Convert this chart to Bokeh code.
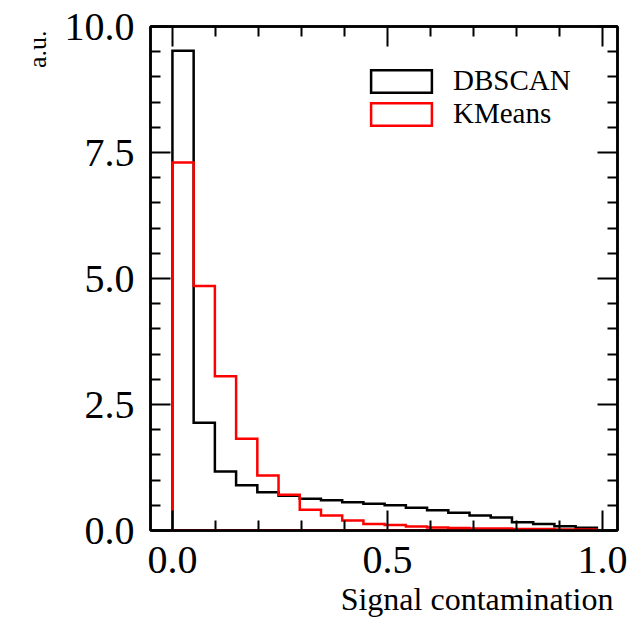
import numpy as np
from bokeh.plotting import figure
from bokeh.models import (Range1d, FixedTicker, PrintfTickFormatter, LinearAxis,
                          Legend, LegendItem, CustomJSTickFormatter, Title)
from bokeh.embed import file_html
from bokeh.resources import INLINE

# ---- data ----
series_names = ["DBSCAN", "KMeans"]
series_colors = ["black", "red"]
bin_edges = np.linspace(0.0, 0.987, 21)
dbscan_values = [9.52, 2.14, 1.17, 0.90, 0.76, 0.69, 0.63, 0.60, 0.56, 0.53,
                 0.50, 0.45, 0.40, 0.35, 0.30, 0.26, 0.165, 0.13, 0.085, 0.053]
kmeans_values = [7.30, 4.85, 3.06, 1.82, 1.09, 0.71, 0.41, 0.30, 0.20, 0.13,
                 0.11, 0.08, 0.06, 0.05, 0.04, 0.04, 0.03, 0.03, 0.02, 0.02]
x_major = [0.0, 0.5, 1.0]
x_minor = [0.1, 0.2, 0.3, 0.4, 0.6, 0.7, 0.8, 0.9]
y_major = [0.0, 2.5, 5.0, 7.5, 10.0]
y_minor = [0.5, 1.0, 1.5, 2.0, 3.0, 3.5, 4.0, 4.5, 5.5, 6.0, 6.5, 7.0,
           8.0, 8.5, 9.0, 9.5]
x_label = "Signal contamination"
y_label = "a.u."

FONT = "Liberation Serif"

p = figure(width=631, height=621, output_backend="svg", toolbar_location=None,
           x_range=Range1d(-0.051, 1.035), y_range=Range1d(0, 10),
           min_border_left=150, min_border_right=14, min_border_top=26,
           min_border_bottom=91)
p.xgrid.visible = False
p.ygrid.visible = False
p.outline_line_color = "black"
p.outline_line_width = 2.5
p.background_fill_color = "white"
p.border_fill_color = "white"


def step_path(edges, vals):
    xs, ys = [edges[0]], [0.0]
    for i, v in enumerate(vals):
        xs += [edges[i], edges[i + 1]]
        ys += [v, v]
    xs.append(edges[-1])
    ys.append(0.0)
    return xs, ys


legend_items = []
for name, color, vals in zip(series_names, series_colors, [dbscan_values, kmeans_values]):
    xs, ys = step_path(list(bin_edges), vals)
    r = p.patch(xs, ys, fill_alpha=0, line_color=color, line_width=2.5,
                line_join="miter")
    legend_items.append(LegendItem(label=name, renderers=[r]))

legend = Legend(items=legend_items, location=(213, 400), padding=0, margin=0,
                spacing=0, glyph_width=76, glyph_height=28, label_standoff=14,
                label_text_font=FONT, label_text_font_size="29px",
                label_text_color="black", border_line_alpha=0,
                background_fill_alpha=0)
p.add_layout(legend, "center")

empty_fmt = CustomJSTickFormatter(code="return ''")


def style_axis(ax, ticks, minor, show_labels):
    ax.ticker = FixedTicker(ticks=ticks, minor_ticks=minor)
    ax.axis_line_color = "black"
    ax.axis_line_width = 2.5
    ax.major_tick_in = 20
    ax.major_tick_out = 0
    ax.minor_tick_in = 10
    ax.minor_tick_out = 0
    ax.major_tick_line_width = 2
    ax.minor_tick_line_width = 2
    ax.major_tick_line_color = "black"
    ax.minor_tick_line_color = "black"
    ax.major_label_text_font = FONT
    ax.major_label_text_color = "black"
    if show_labels:
        ax.formatter = PrintfTickFormatter(format="%.1f")
        ax.major_label_text_font_size = "40px"
    else:
        ax.formatter = empty_fmt
        ax.major_label_text_font_size = "10px"
        ax.major_label_standoff = 0


xax = p.xaxis[0]
yax = p.yaxis[0]
style_axis(xax, x_major, x_minor, True)
style_axis(yax, y_major, y_minor, True)
xax.major_label_standoff = 16
yax.major_label_standoff = 16

top_ax = LinearAxis()
style_axis(top_ax, x_major, x_minor, False)
p.add_layout(top_ax, "above")
right_ax = LinearAxis()
style_axis(right_ax, y_major, y_minor, False)
p.add_layout(right_ax, "right")

# axis titles placed at the far ends of the axes
p.add_layout(Title(text=x_label, align="right", offset=4, standoff=7,
                   text_font=FONT, text_font_size="32px",
                   text_font_style="normal", text_color="black"), "below")
p.add_layout(Title(text=y_label, align="right", offset=4, standoff=19,
                   text_font=FONT, text_font_size="26px",
                   text_font_style="normal", text_color="black"), "left")

open("out.html", "w").write(file_html(p, INLINE))
